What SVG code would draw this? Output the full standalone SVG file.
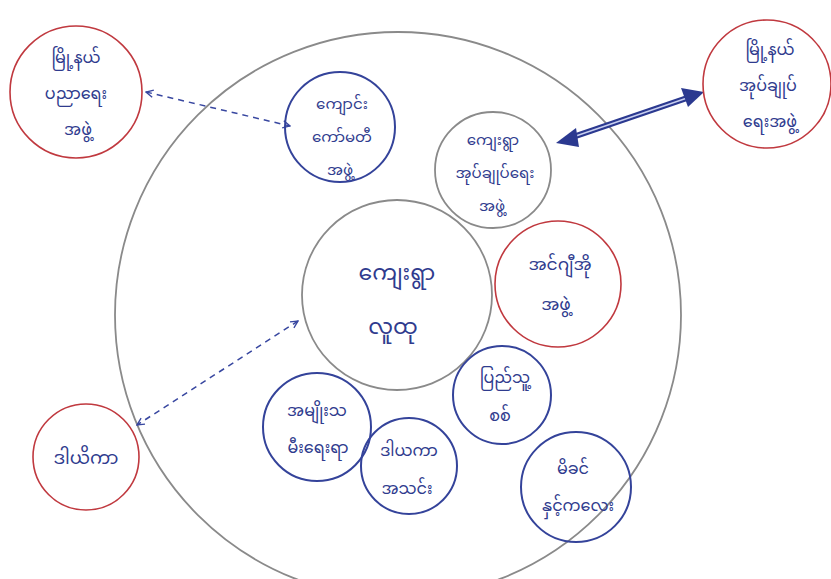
<svg xmlns="http://www.w3.org/2000/svg" width="831" height="579" viewBox="0 0 831 579">
<style>
text{font-family:"Noto Sans Myanmar","Myanmar Text","Padauk","Noto Sans",sans-serif;font-size:16px;fill:#2f3b8e;text-anchor:middle}
.s15{font-size:15px}
.s17{font-size:17px}
.s18{font-size:18px}
.s22{font-size:22px}
.blue{fill:none;stroke:#34439a;stroke-width:2}
.red{fill:none;stroke:#c0393f;stroke-width:1.6}
.gray{fill:none;stroke:#8a8a8a;stroke-width:1.8}
.dash{fill:none;stroke:#3847a0;stroke-width:1.5;stroke-dasharray:6 5}
</style>
<defs>
<marker id="open" viewBox="0 0 10 10" refX="9" refY="5" markerWidth="9" markerHeight="9" orient="auto-start-reverse" markerUnits="userSpaceOnUse">
<path d="M1,1 L9,5 L1,9" fill="none" stroke="#3847a0" stroke-width="1.5"/>
</marker>
</defs>
<rect width="831" height="579" fill="#ffffff"/>
<g id="outer-circle"><circle cx="398" cy="315" r="283" class="gray"/></g>
<g id="connectors">
<line x1="146" y1="92" x2="290" y2="126" class="dash" marker-start="url(#open)" marker-end="url(#open)"/>
<line x1="298" y1="321" x2="137" y2="425" class="dash" marker-start="url(#open)" marker-end="url(#open)"/>
<g id="double-arrow">
<line x1="570" y1="138" x2="690" y2="97" stroke="#2b3990" stroke-width="6"/>
<line x1="570" y1="138" x2="690" y2="97" stroke="#c8cff0" stroke-width="1.5"/>
<polygon points="556,143 576,128 579,147" fill="#2b3990"/>
<polygon points="704,92 681,88 688,107" fill="#2b3990"/>
</g>
</g>
<g id="n-township-education">
<circle cx="76" cy="92" r="66" class="red"/>
<text x="76" y="63">မြို့နယ်</text>
<text x="76" y="99">ပညာရေး</text>
<text x="78" y="135">အဖွဲ့</text>
</g>
<g id="n-school-committee">
<circle cx="340" cy="127" r="55" class="blue"/>
<text x="342" y="109" class="s15">ကျောင်း</text>
<text x="342" y="142" class="s15">ကော်မတီ</text>
<text x="340" y="175" class="s15">အဖွဲ့</text>
</g>
<g id="n-village-admin">
<circle cx="493" cy="170" r="58" class="gray"/>
<text x="493" y="145" class="s15">ကျေးရွာ</text>
<text x="495" y="178" class="s15">အုပ်ချုပ်ရေး</text>
<text x="492" y="211" class="s15">အဖွဲ့</text>
</g>
<g id="n-township-admin">
<circle cx="767" cy="84" r="64" class="red"/>
<text x="770" y="55">မြို့နယ်</text>
<text x="768" y="91">အုပ်ချုပ်</text>
<text x="770" y="127">ရေးအဖွဲ့</text>
</g>
<g id="n-community">
<circle cx="397" cy="295" r="95" class="gray"/>
<text x="397" y="280" class="s22">ကျေးရွာ</text>
<text x="393" y="334" class="s22">လူထု</text>
</g>
<g id="n-ngo">
<circle cx="558" cy="284" r="63" class="red"/>
<text x="560" y="270" class="s17">အင်ဂျီအို</text>
<text x="556" y="310" class="s17">အဖွဲ့</text>
</g>
<g id="n-militia">
<circle cx="502" cy="395" r="49" class="blue"/>
<text x="505" y="383">ပြည်သူ့</text>
<text x="500" y="421">စစ်</text>
</g>
<g id="n-women">
<circle cx="317" cy="427" r="54" class="blue"/>
<text x="317" y="416">အမျိုးသ</text>
<text x="318" y="453">မီးရေးရာ</text>
</g>
<g id="n-donors">
<circle cx="409" cy="466" r="48" class="blue"/>
<text x="409" y="456">ဒါယကာ</text>
<text x="407" y="494">အသင်း</text>
</g>
<g id="n-mother-child">
<circle cx="576" cy="487" r="55" class="blue"/>
<text x="573" y="474">မိခင်</text>
<text x="578" y="511">နှင့်ကလေး</text>
</g>
<g id="n-female-donor">
<circle cx="86" cy="457" r="53" class="red"/>
<text x="86" y="464" class="s18">ဒါယိကာ</text>
</g>
</svg>
